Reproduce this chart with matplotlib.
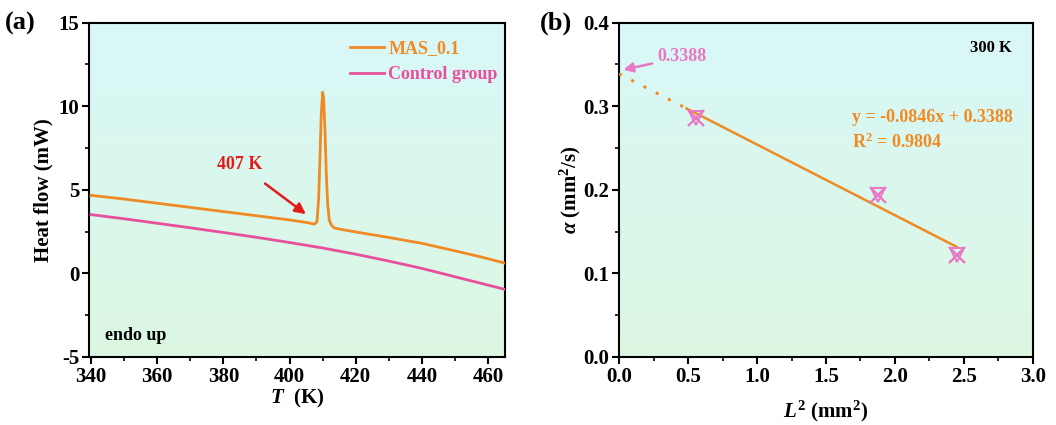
import numpy as np
import matplotlib
matplotlib.use("Agg")
import matplotlib.pyplot as plt
from matplotlib.ticker import MultipleLocator
from matplotlib.colors import LinearSegmentedColormap

plt.rcParams["font.family"] = ["Liberation Serif", "DejaVu Serif"]
plt.rcParams["font.weight"] = "bold"
plt.rcParams["axes.labelweight"] = "bold"
plt.rcParams["axes.unicode_minus"] = False
plt.rcParams["mathtext.fontset"] = "custom"
plt.rcParams["mathtext.rm"] = "Liberation Serif:bold"
plt.rcParams["mathtext.it"] = "Liberation Serif:bold:italic"
plt.rcParams["mathtext.bf"] = "Liberation Serif:bold"

# (a) DSC curves
mas_T = [340, 350, 360, 370, 380, 390, 400, 405, 407.5, 408.3, 408.8, 409.2,
         409.6, 410.0, 410.3, 410.7, 411.1, 411.5, 412.0, 412.6, 413.5, 416,
         420, 430, 440, 450, 458, 465]
mas_hf = [4.67, 4.45, 4.2, 3.95, 3.7, 3.45, 3.2, 3.05, 2.95, 3.1, 4.5, 7.0,
          9.6, 10.84, 10.5, 8.6, 6.0, 4.2, 3.2, 2.9, 2.72, 2.62,
          2.48, 2.15, 1.8, 1.35, 0.98, 0.62]
ctrl_T = [340, 350, 360, 370, 380, 390, 400, 410, 420, 430, 440, 450, 465]
ctrl_hf = [3.52, 3.27, 3.0, 2.73, 2.45, 2.16, 1.85, 1.52, 1.15, 0.74, 0.3, -0.2, -0.95]

# (b) diffusivity vs thickness squared
L2 = [0.556, 1.875, 2.447]
alpha = [0.2855, 0.194, 0.122]
fit_slope = -0.0846
fit_icpt = 0.3388
fit_r2 = 0.9804

orange = "#f08a24"
pink = "#e8509c"
marker_pink = "#e878c4"
bg_cmap = LinearSegmentedColormap.from_list("bg", ["#dcf8e2", "#d9f7f8"])


def paint_bg(ax):
    grad = np.linspace(0, 1, 256).reshape(-1, 1)
    ax.imshow(grad, cmap=bg_cmap, aspect="auto", extent=[0, 1, 0, 1],
              transform=ax.transAxes, origin="lower", zorder=0)


def style_axes(ax):
    for s in ax.spines.values():
        s.set_linewidth(1.5)
    ax.tick_params(which="major", direction="out", length=5, width=1.5,
                   labelsize=15, pad=2)
    ax.tick_params(which="minor", direction="out", length=3, width=1.2)
    ax.tick_params(top=False, right=False)


fig = plt.figure(figsize=(10.56, 4.25), dpi=100)
ax1 = fig.add_axes([0.0843, 0.160, 0.3939, 0.7866])
ax2 = fig.add_axes([0.5862, 0.160, 0.392, 0.7866])

#### panel (a) ####
paint_bg(ax1)
ax1.plot(mas_T, mas_hf, color=orange, lw=2, label="MAS_0.1", zorder=3)
ax1.plot(ctrl_T, ctrl_hf, color=pink, lw=2, label="Control group", zorder=3)
ax1.set_xlim(339.4, 465.1)
ax1.set_ylim(-5, 15)
ax1.xaxis.set_major_locator(MultipleLocator(20))
ax1.xaxis.set_minor_locator(MultipleLocator(10))
ax1.yaxis.set_major_locator(MultipleLocator(5))
ax1.yaxis.set_minor_locator(MultipleLocator(2.5))
style_axes(ax1)
ax1.set_xlabel(r"$T$  (K)", fontsize=15, labelpad=0)
ax1.set_ylabel("Heat flow (mW)", fontsize=15, labelpad=4)
leg = ax1.legend(loc="upper right", bbox_to_anchor=(1.0, 0.97), frameon=False,
                 fontsize=13, handlelength=1.9, handletextpad=0.25,
                 borderaxespad=0, labelspacing=0.5)
for txt, c in zip(leg.get_texts(), [orange, pink]):
    txt.set_color(c)
ax1.annotate("407 K", xy=(405.6, 3.45), xytext=(385, 6.5),
             color="#e21b1b", fontsize=13, fontweight="bold", ha="center",
             va="center",
             arrowprops=dict(arrowstyle="-|>", color="#e21b1b", lw=1.8,
                             shrinkA=9, mutation_scale=16))
ax1.text(344.2, -3.7, "endo up", fontsize=13, fontweight="bold", va="center")
fig.text(0.005, 0.945, "(a)", fontsize=19, fontweight="bold", va="center")

#### panel (b) ####
paint_bg(ax2)
x_fit = np.array([0.49, 2.45])
ax2.plot(x_fit, fit_slope * x_fit + fit_icpt, color=orange, lw=1.8, zorder=3)
x_dot = np.array([0.0, 0.49])
ax2.plot(x_dot, fit_slope * x_dot + fit_icpt, color=orange, lw=2.2,
         ls=(0, (1, 3.5)), zorder=3)
ax2.plot(L2, alpha, ls="none", marker="x", ms=12, mew=1.7, color=marker_pink,
         zorder=4)
ax2.plot(L2, alpha, ls="none", marker="v", ms=10, mew=1.4, mfc="none",
         mec=marker_pink, zorder=4)
ax2.set_xlim(0, 3)
ax2.set_ylim(0, 0.4)
ax2.xaxis.set_major_locator(MultipleLocator(0.5))
ax2.xaxis.set_minor_locator(MultipleLocator(0.25))
ax2.yaxis.set_major_locator(MultipleLocator(0.1))
ax2.yaxis.set_minor_locator(MultipleLocator(0.05))
style_axes(ax2)
ax2.set_xlabel(r"$L^2$ (mm$^2$)", fontsize=15, labelpad=9)
ax2.set_ylabel(r"$\alpha$ (mm$^2$/s)", fontsize=15, labelpad=0)
ax2.annotate(f"{fit_icpt:.4f}", xy=(0.012, 0.343), xytext=(0.28, 0.359),
             color=marker_pink, fontsize=13, fontweight="bold",
             va="center", ha="left",
             arrowprops=dict(arrowstyle="-|>", color=marker_pink, lw=1.8,
                             shrinkA=2, mutation_scale=14))
ax2.text(2.85, 0.37, "300 K", fontsize=12, fontweight="bold", ha="right",
         va="center")
ax2.text(1.686, 0.286, f"y = {fit_slope}x + {fit_icpt}", color=orange,
         fontsize=13, fontweight="bold", va="center")
ax2.text(1.686, 0.257, f"R$^2$ = {fit_r2}", color=orange, fontsize=13,
         fontweight="bold", va="center")
fig.text(0.511, 0.945, "(b)", fontsize=19, fontweight="bold", va="center")

fig.savefig("out.png", dpi=100)
